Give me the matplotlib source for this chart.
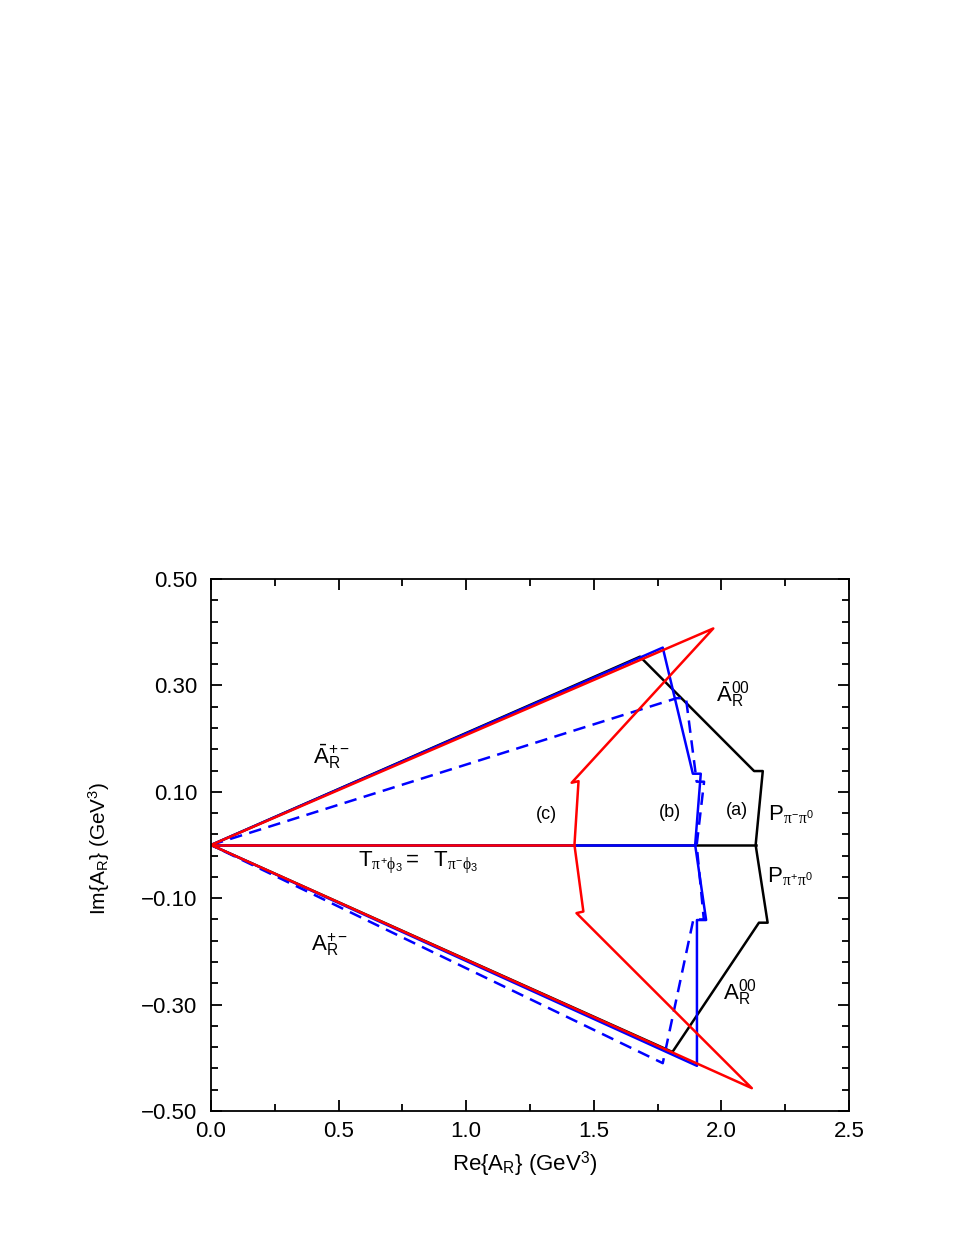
import numpy as np
import matplotlib
matplotlib.use('Agg')
import matplotlib.pyplot as plt
from matplotlib.ticker import FixedLocator, MultipleLocator

plt.rcParams['font.family'] = ['Liberation Sans', 'DejaVu Sans']
plt.rcParams['mathtext.fontset'] = 'custom'
plt.rcParams['mathtext.rm'] = 'Liberation Sans'
plt.rcParams['mathtext.it'] = 'Liberation Serif'
plt.rcParams['mathtext.bf'] = 'Liberation Sans:bold'

# (a) black polygon
black_x = [0, 1.681, 2.128, 2.162, 2.134, 2.181, 2.147, 1.808, 0]
black_y = [0, 0.354, 0.139, 0.139, 0.0, -0.146, -0.146, -0.389, 0]
# (b) blue solid
blue_x = [0, 1.770, 1.888, 1.919, 1.897, 1.940, 1.904, 1.904, 0]
blue_y = [0, 0.371, 0.134, 0.134, 0.0, -0.141, -0.141, -0.415, 0]
# (b) blue dashed
bdash_x = [0, 1.825, 1.861, 1.903, 1.932, 1.903, 1.931, 1.890, 1.770, 0]
bdash_y = [0, 0.276, 0.276, 0.119, 0.119, 0.0, -0.140, -0.140, -0.410, 0]
# (c) red
red_x = [0, 1.968, 1.413, 1.440, 1.424, 1.459, 1.432, 2.119, 0]
red_y = [0, 0.407, 0.117, 0.120, 0.0, -0.125, -0.128, -0.457, 0]
# T lines along the real axis
t_ends = {'black': 2.134, 'blue': 1.897, 'red': 1.424}

xticks = [0.0, 0.5, 1.0, 1.5, 2.0, 2.5]
yticks = [-0.50, -0.30, -0.10, 0.10, 0.30, 0.50]

fig = plt.figure(figsize=(9.69, 12.54), dpi=100)
ax = fig.add_axes([0.2178, 0.114, 0.6584, 0.4243])

lw = 1.8
ax.plot(black_x, black_y, color='black', lw=lw)
ax.plot([0, t_ends['black']], [0, 0], color='black', lw=lw)
ax.plot(blue_x, blue_y, color='#0000ff', lw=lw)
ax.plot(bdash_x, bdash_y, color='#0000ff', lw=lw, ls=(0, (5, 3)))
ax.plot([0, t_ends['blue']], [0, 0], color='#0000ff', lw=lw)
ax.plot(red_x, red_y, color='#ff0000', lw=lw)
ax.plot([0, t_ends['red']], [0, 0], color='#ff0000', lw=lw)

fs = 16
ax.text(0.40, 0.165, r'$\bar{\mathrm{A}}_\mathrm{R}^{+-}$', fontsize=fs, va='center')
ax.text(1.979, 0.282, r'$\bar{\mathrm{A}}_\mathrm{R}^{00}$', fontsize=fs, va='center')
ax.text(0.39, -0.188, r'$\mathrm{A}_\mathrm{R}^{+-}$', fontsize=fs, va='center')
ax.text(2.006, -0.278, r'$\mathrm{A}_\mathrm{R}^{00}$', fontsize=fs, va='center')
ax.text(1.313, 0.058, '(c)', fontsize=13, ha='center', va='center')
ax.text(1.799, 0.062, '(b)', fontsize=13, ha='center', va='center')
ax.text(2.061, 0.064, '(a)', fontsize=13, ha='center', va='center')
ax.text(2.183, 0.058, r'$\mathrm{P}_{\pi^{-}\pi^{0}}$', fontsize=fs, va='center')
ax.text(2.179, -0.058, r'$\mathrm{P}_{\pi^{+}\pi^{0}}$', fontsize=fs, va='center')
ax.text(0.576, -0.034, r'$\mathrm{T}_{\pi^{+}\phi_{3}}\mathrm{=\ \ T}_{\pi^{-}\phi_{3}}$',
        fontsize=fs, va='center')

ax.set_xlim(0, 2.5)
ax.set_ylim(-0.5, 0.5)
ax.xaxis.set_major_locator(FixedLocator(xticks))
ax.xaxis.set_minor_locator(MultipleLocator(0.25))
ax.yaxis.set_major_locator(FixedLocator(yticks))
ax.yaxis.set_minor_locator(FixedLocator(np.round(np.arange(-0.5, 0.501, 0.04), 3)))
ax.set_xticklabels(['%.1f' % v for v in xticks])
ax.set_yticklabels([('%.2f' % v).replace('-', '\u2212') for v in yticks])
ax.tick_params(which='both', direction='in', top=True, right=True, labelsize=fs, width=1.3)
ax.tick_params(which='major', length=8)
ax.tick_params(axis='y', which='major', pad=10)
ax.tick_params(axis='x', which='major', pad=7)
ax.tick_params(which='minor', length=5)
for s in ax.spines.values():
    s.set_linewidth(1.3)

ax.set_xlabel(r'Re{A$_\mathrm{R}$} (GeV$^3$)', fontsize=fs)
ax.set_ylabel(r'Im{A$_\mathrm{R}$} (GeV$^3$)', fontsize=15)
ax.xaxis.set_label_coords(0.491, -0.073)
ax.yaxis.set_label_coords(-0.155, 0.494)

fig.savefig('out.png', dpi=100)
